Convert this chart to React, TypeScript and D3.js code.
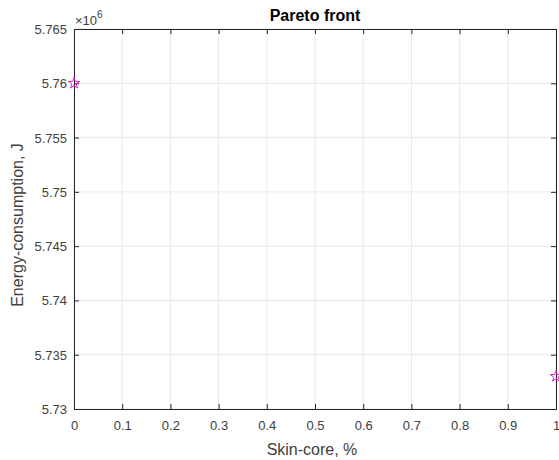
import React, { useEffect, useRef } from 'react';
import * as d3 from 'd3';

const skinCore = [0, 1];
const energy = [5.76e6, 5.733e6];
const xTicks = [0, 0.1, 0.2, 0.3, 0.4, 0.5, 0.6, 0.7, 0.8, 0.9, 1];
const yTicks = [5.73, 5.735, 5.74, 5.745, 5.75, 5.755, 5.76, 5.765];
const xTickLabels = ['0', '0.1', '0.2', '0.3', '0.4', '0.5', '0.6', '0.7', '0.8', '0.9', '1'];
const yTickLabels = ['5.73', '5.735', '5.74', '5.745', '5.75', '5.755', '5.76', '5.765'];

const App = () => {
    const svgRef = useRef<SVGSVGElement>(null);

    useEffect(() => {
        const svg = d3.select(svgRef.current);
        svg.selectAll('*').remove();
        const width = 559;
        const height = 460;
        const left = 74, top = 29, right = 556, bottom = 409;
        const font = 'Liberation Sans, Arial, sans-serif';

        const x = d3.scaleLinear().domain([0, 1]).range([left, right]);
        const y = d3.scaleLinear().domain([5.73, 5.765]).range([bottom, top]);

        svg.attr('width', width).attr('height', height);
        svg.append('rect').attr('width', width).attr('height', height).attr('fill', '#fff');

        const g = svg.append('g');

        // grid
        g.selectAll('.gx').data(xTicks).enter().append('line')
            .attr('x1', (d) => x(d)).attr('x2', (d) => x(d))
            .attr('y1', top).attr('y2', bottom)
            .attr('stroke', '#e8e8e8').attr('stroke-width', 1);
        g.selectAll('.gy').data(yTicks).enter().append('line')
            .attr('x1', left).attr('x2', right)
            .attr('y1', (d) => y(d)).attr('y2', (d) => y(d))
            .attr('stroke', '#e8e8e8').attr('stroke-width', 1);

        // axes
        const xAxis = d3.axisBottom(x).tickValues(xTicks).tickSize(-5).tickFormat((d, i) => xTickLabels[i]);
        const yAxis = d3.axisLeft(y).tickValues(yTicks).tickSize(-5).tickFormat((d, i) => yTickLabels[i]);
        const xa = g.append('g').attr('transform', `translate(0,${bottom})`).call(xAxis);
        const ya = g.append('g').attr('transform', `translate(${left},0)`).call(yAxis);
        const xt = g.append('g').attr('transform', `translate(0,${top})`).call(d3.axisTop(x).tickValues(xTicks).tickSize(-5).tickFormat(() => ''));
        const yr = g.append('g').attr('transform', `translate(${right},0)`).call(d3.axisRight(y).tickValues(yTicks).tickSize(-5).tickFormat(() => ''));
        [xa, ya, xt, yr].forEach((a) => {
            a.select('.domain').attr('stroke', '#262626');
            a.selectAll('.tick line').attr('stroke', '#262626');
            a.selectAll('text').attr('fill', '#404040').style('font-family', font).style('font-size', '13px');
        });
        xa.selectAll('text').attr('dy', '0').attr('y', 21);
        ya.selectAll('text').attr('x', -7).attr('dy', '0.35em');

        // points
        const star = d3.symbol().type(d3.symbolStar).size(40);
        g.selectAll('.pt').data(skinCore).enter().append('path')
            .attr('d', star)
            .attr('transform', (d, i) => `translate(${x(d)},${y(energy[i] / 1e6)})`)
            .attr('fill', 'none')
            .attr('stroke', '#e020e0')
            .attr('stroke-width', 1);

        // exponent
        const ex = svg.append('text').attr('x', 75).attr('y', 25)
            .style('font-family', font).style('font-size', '13px').attr('fill', '#404040');
        ex.append('tspan').text('×10');
        ex.append('tspan').attr('dy', -7).style('font-size', '10px').text('6');

        svg.append('text').attr('x', 315).attr('y', 21).attr('text-anchor', 'middle')
            .style('font-family', font).style('font-size', '16px').style('font-weight', 'bold')
            .attr('fill', '#000').text('Pareto front');

        svg.append('text').attr('x', 312).attr('y', 455).attr('text-anchor', 'middle')
            .style('font-family', font).style('font-size', '16px')
            .attr('fill', '#404040').text('Skin-core, %');

        svg.append('text').attr('transform', 'translate(23,225) rotate(-90)').attr('text-anchor', 'middle')
            .style('font-family', font).style('font-size', '16px')
            .attr('fill', '#404040').text('Energy-consumption, J');
    }, []);

    return (
        <svg ref={svgRef} width={559} height={460} style={{ position: 'absolute', left: 0, top: 0 }} />
    );
};

export default App;
